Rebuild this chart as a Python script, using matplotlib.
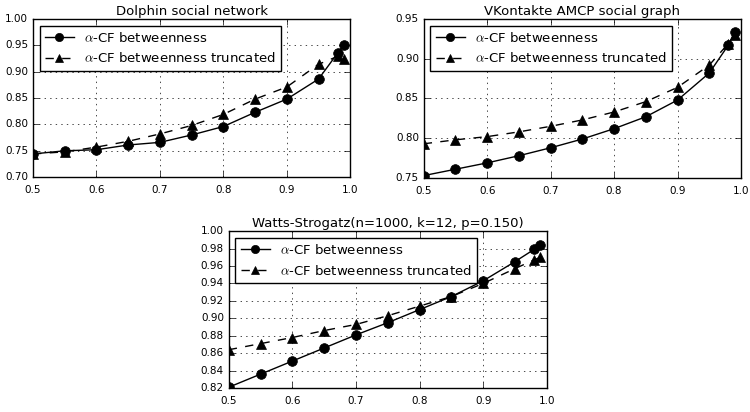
import matplotlib
matplotlib.use("Agg")
import matplotlib.pyplot as plt

plt.style.use("classic")
plt.rcParams["font.family"] = ["DejaVu Sans"]
plt.rcParams["mathtext.fontset"] = "cm"

alphas = [0.5, 0.55, 0.6, 0.65, 0.7, 0.75, 0.8, 0.85, 0.9, 0.95, 0.98, 0.99]

dolphin_cf = [0.744, 0.750, 0.752, 0.761, 0.766, 0.780, 0.796, 0.823, 0.848, 0.886, 0.935, 0.951]
dolphin_trunc = [0.744, 0.748, 0.757, 0.768, 0.782, 0.798, 0.819, 0.848, 0.871, 0.914, 0.929, 0.924]

vk_cf = [0.753, 0.761, 0.769, 0.778, 0.788, 0.799, 0.812, 0.827, 0.848, 0.882, 0.917, 0.934]
vk_trunc = [0.793, 0.798, 0.802, 0.808, 0.815, 0.823, 0.833, 0.846, 0.864, 0.892, 0.919, 0.930]

ws_cf = [0.821, 0.836, 0.851, 0.866, 0.881, 0.895, 0.910, 0.925, 0.943, 0.965, 0.979, 0.984]
ws_trunc = [0.864, 0.871, 0.878, 0.886, 0.893, 0.903, 0.914, 0.925, 0.940, 0.957, 0.967, 0.970]

panels = [
    ("Dolphin social network", dolphin_cf, dolphin_trunc, (0.70, 1.00), 0.05,
     [0.044, 0.570, 0.423, 0.384]),
    ("VKontakte AMCP social graph", vk_cf, vk_trunc, (0.75, 0.95), 0.05,
     [0.565, 0.568, 0.423, 0.386]),
    ("Watts-Strogatz(n=1000, k=12, p=0.150)", ws_cf, ws_trunc, (0.82, 1.00), 0.02,
     [0.305, 0.058, 0.424, 0.381]),
]

fig = plt.figure(figsize=(7.5, 4.12), dpi=100, facecolor="white")

for title, cf, tr, ylim, ystep, rect in panels:
    ax = fig.add_axes(rect)
    ax.plot(alphas, cf, "k-o", lw=1, markersize=7, label=r"$\alpha$-CF betweenness")
    ax.plot(alphas, tr, "k--^", lw=1, markersize=7, label=r"$\alpha$-CF betweenness truncated")
    ax.set_xlim(0.5, 1.0)
    ax.set_ylim(*ylim)
    n = int(round((ylim[1] - ylim[0]) / ystep))
    ax.set_yticks([ylim[0] + i * ystep for i in range(n + 1)])
    ax.set_xticks([0.5, 0.6, 0.7, 0.8, 0.9, 1.0])
    ax.yaxis.set_major_formatter(matplotlib.ticker.FormatStrFormatter("%.2f"))
    ax.xaxis.set_major_formatter(matplotlib.ticker.FormatStrFormatter("%.1f"))
    ax.tick_params(labelsize=7.5, direction="in", length=4)
    ax.tick_params(axis="y", pad=3.5)
    ax.tick_params(axis="x", pad=6)
    ax.grid(True, linestyle=":", color="black", linewidth=0.5)
    ax.set_title(title, fontsize=9.5, pad=3)
    leg = ax.legend(loc="upper left", fontsize=9.5, numpoints=1, handlelength=2.2,
                    markerscale=0.85, borderpad=0.4, labelspacing=0.5,
                    handletextpad=0.8, borderaxespad=0.5)
    leg.get_frame().set_linewidth(1.0)
    for s in ax.spines.values():
        s.set_linewidth(1.0)

fig.savefig("out.png", dpi=100, facecolor="white")
